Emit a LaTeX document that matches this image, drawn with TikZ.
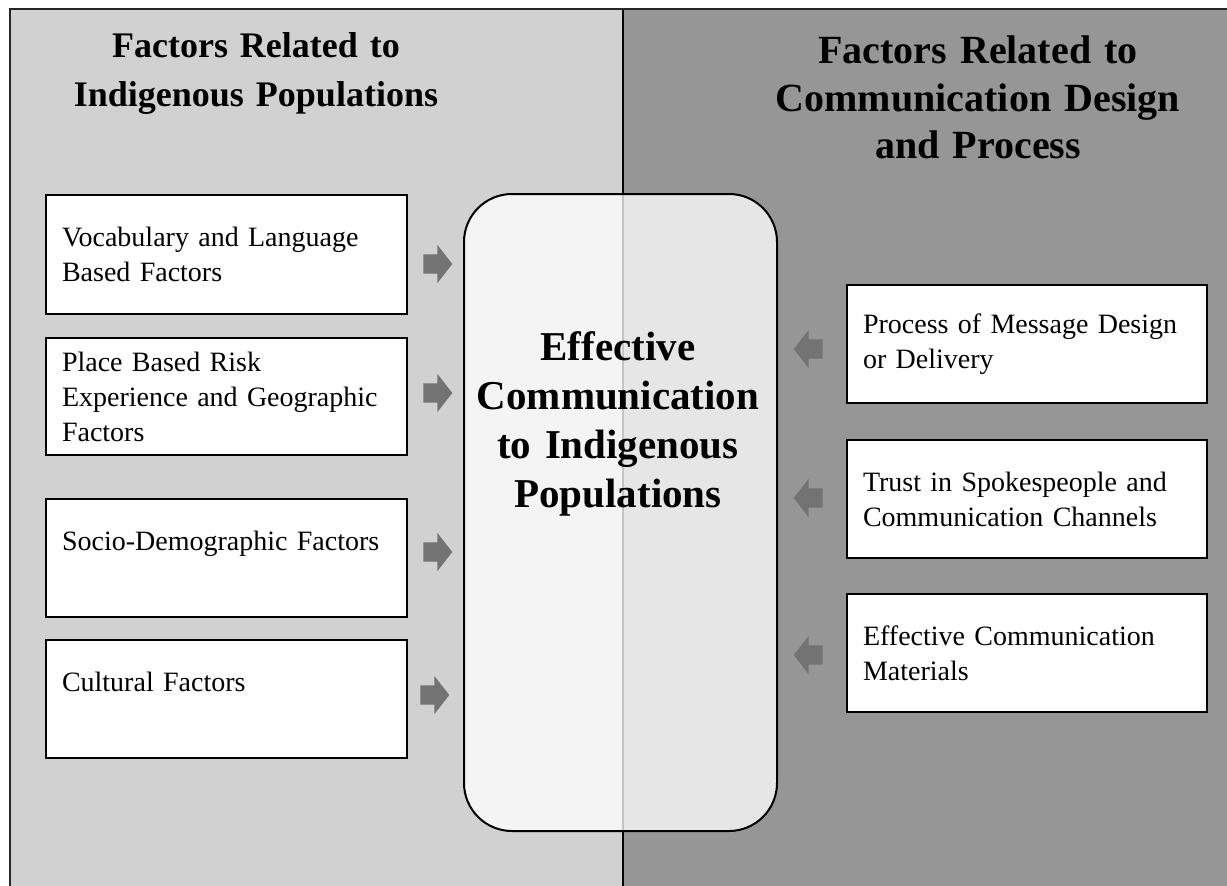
\documentclass[tikz,border=0pt]{standalone}
\usepackage{fontspec}
\setmainfont{Liberation Serif}
\usepackage{tikz}
\usetikzlibrary{shapes}
\usetikzlibrary{shapes.arrows}

\definecolor{leftpanel}{HTML}{D1D1D1}
\definecolor{rightpanel}{HTML}{969696}
\definecolor{arrowgray}{HTML}{737373}

\begin{document}
\begin{tikzpicture}[x=1pt, y=-1pt,
        title_style/.style={align=center, inner sep=0pt, anchor=base, font=\bfseries\fontsize{36}{49}\selectfont},
        factor_style/.style={rectangle, draw=black, line width=2pt, fill=white, anchor=north west,
            minimum width=361, minimum height=119, inner xsep=16pt, inner ysep=0pt,
            text width=329, align=left, font=\fontsize{28}{35}\selectfont},
        hub_style/.style={rectangle, rounded corners=48pt, draw=black, line width=2pt, fill=white,
            fill opacity=0.77, anchor=north west, minimum width=313, minimum height=637},
        hub_text_style/.style={align=center, inner sep=0pt, anchor=base, text width=310,
            font=\bfseries\fontsize{41}{49}\selectfont},
        arrow_style/.style={single arrow, fill=arrowgray, draw=none, minimum height=29,
            inner xsep=0pt, inner ysep=9.5pt, single arrow head extend=9.5pt, single arrow tip angle=104},
        back_arrow_style/.style={arrow_style, shape border rotate=180}]

        \useasboundingbox (0,0) rectangle (1227,886);
        \clip (0,0) rectangle (1227,886);

        % two background panels and the frame around them
        \fill [leftpanel] (10,9) rectangle (623,900);

        \fill [rightpanel] (623,9) rectangle (1240,900);

        \draw [line width=2pt] (623,9) -- (623,900);

        \draw [line width=2.5pt, draw=black!85] (10,9) rectangle (1240,900);

        % panel headings
        \node [title_style, text width=440] (title_l) at (256,57) {Factors Related to\\Indigenous Populations};

        \node [title_style, text width=480, font=\bfseries\fontsize{40}{48}\selectfont] (title_r) at (978,63) {Factors Related to\\Communication Design\\and Process};

        % left hand factors
        \node [factor_style] (voc) at (45,194) {Vocabulary and Language\\Based Factors};

        \node [factor_style, minimum height=117] (place) at (45,337) {Place Based Risk\\Experience and Geographic\\Factors};

        \node [factor_style, minimum height=118] (socio) at (45,498) {Socio-Demographic Factors\\\mbox{}};

        \node [factor_style, minimum height=118] (cult) at (45,639) {Cultural Factors\\\mbox{}};

        % right hand factors
        \node [factor_style, minimum width=360, minimum height=118, text width=328] (proc) at (846,284) {Process of Message Design\\or Delivery};

        \node [factor_style, minimum width=360, minimum height=118, text width=328] (trust) at (846,439) {Trust in Spokespeople and\\Communication Channels};

        \node [factor_style, minimum width=360, minimum height=118, text width=328] (mat) at (846,593) {Effective Communication\\Materials};

        % the hub in the middle
        \node [hub_style] (hub) at (463,193) {};

        \node [hub_text_style] (hub_text) at (618,360) {Effective\\Communication\\to Indigenous\\Populations};

        % block arrows towards the hub
        \node [arrow_style] (a_voc) at (434,264) {};

        \node [arrow_style] (a_place) at (434,393) {};

        \node [arrow_style] (a_socio) at (434,552) {};

        \node [arrow_style] (a_cult) at (431,695) {};

        \node [back_arrow_style] (a_proc) at (812,349) {};

        \node [back_arrow_style] (a_trust) at (812,498) {};

        \node [back_arrow_style] (a_mat) at (812,655) {};

\end{tikzpicture}
\end{document}
